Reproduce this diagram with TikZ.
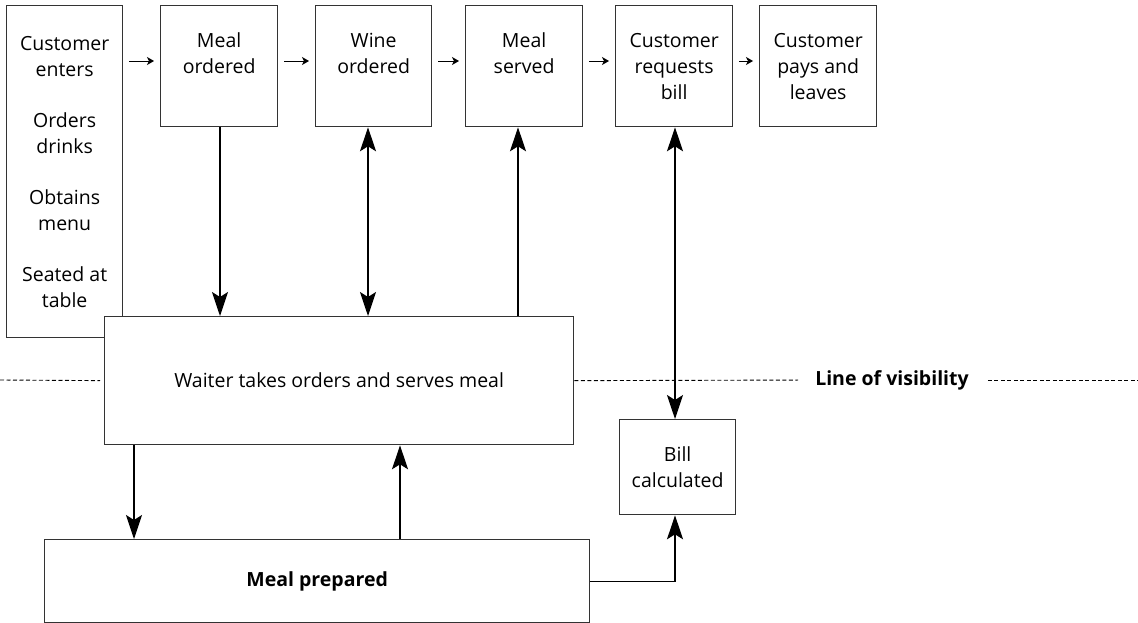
\documentclass[tikz,border=0pt]{standalone}
\usepackage{fontspec}
\setmainfont{Open Sans}
\usetikzlibrary{arrows.meta}
\newcommand\dgfont{\fontsize{19.5}{26}\selectfont}
\begin{document}
\begin{tikzpicture}[x=1pt,y=-1pt,
  box/.style={draw=black!80, line width=1.3pt, fill=white, align=center, inner sep=0pt, font=\dgfont, anchor=north west},
  arr/.style={-{Stealth[length=24pt,width=16pt,inset=5pt]}, line width=1.1pt},
  biarr/.style={{Stealth[length=24pt,width=16pt,inset=5pt]}-{Stealth[length=24pt,width=16pt,inset=5pt]}, line width=1.1pt},
  tinyarrow/.style={-{Stealth[length=7pt,width=8pt,inset=2pt]}, line width=0.8pt, shorten <=6pt, shorten >=6pt},
  visline/.style={dash pattern=on 4pt off 2.5pt, line width=0.9pt}]
\useasboundingbox (0,0) rectangle (1138,623);

% top row
\node[box, minimum width=116pt, minimum height=332pt] (cust) at (6,5)
  {Customer\\enters\\[25pt]Orders\\drinks\\[25pt]Obtains\\menu\\[25pt]Seated at\\table};
\node[box, minimum width=117pt, minimum height=121pt] (mo) at (160,5) {Meal\\ordered\\\phantom{x}};
\node[box, minimum width=116pt, minimum height=121pt] (wo) at (315,5) {Wine\\ordered\\\phantom{x}};
\node[box, minimum width=117pt, minimum height=121pt] (ms) at (465,5) {Meal\\served\\\phantom{x}};
\node[box, minimum width=117pt, minimum height=121pt] (crb) at (615,5) {Customer\\requests\\bill};
\node[box, minimum width=117pt, minimum height=121pt] (cpl) at (759,5) {Customer\\pays and\\leaves};

% middle and bottom
\node[box, minimum width=469pt, minimum height=128pt] (w) at (104,316) {Waiter takes orders and serves meal};
\node[box, minimum width=116pt, minimum height=95pt] (bill) at (619,419) {Bill\\calculated};
\node[box, minimum width=545pt, minimum height=83pt, font=\dgfont\bfseries] (mp) at (44,539) {Meal prepared};

\node[inner sep=0pt, font=\dgfont\bfseries] (lov) at (892,380) {Line of visibility};

% x positions of vertical connectors
\coordinate (ax1) at (220,0);
\coordinate (ax2) at (368,0);
\coordinate (ax3) at (518,0);
\coordinate (ax4) at (675,0);
\coordinate (ax5) at (134,0);
\coordinate (ax6) at (400,0);
\coordinate (ay) at (0,61);
\coordinate (lend) at (0,380);
\coordinate (rend) at (1138,380);

% small sequence arrows
\draw[tinyarrow] (cust.east |- ay) -- (mo.west |- ay);
\draw[tinyarrow] (mo.east |- ay) -- (wo.west |- ay);
\draw[tinyarrow] (wo.east |- ay) -- (ms.west |- ay);
\draw[tinyarrow] (ms.east |- ay) -- (crb.west |- ay);
\draw[tinyarrow] (crb.east |- ay) -- (cpl.west |- ay);

% line of visibility
\draw[visline, shorten >=4pt] (lend) -- (w.west);
\draw[visline, shorten >=17pt] (w.east) -- (lov.west);
\draw[visline, shorten <=19pt] (lov.east) -- (rend);

% vertical connectors
\draw[arr] (mo.south -| ax1) -- (w.north -| ax1);
\draw[biarr] (wo.south -| ax2) -- (w.north -| ax2);
\draw[arr] (w.north -| ax3) -- (ms.south -| ax3);
\draw[biarr] (crb.south -| ax4) -- (bill.north -| ax4);
\draw[arr] (w.south -| ax5) -- (mp.north -| ax5);
\draw[arr] (mp.north -| ax6) -- (w.south -| ax6);
\draw[arr] (mp.east) -| (bill.south -| ax4);
\end{tikzpicture}
\end{document}
